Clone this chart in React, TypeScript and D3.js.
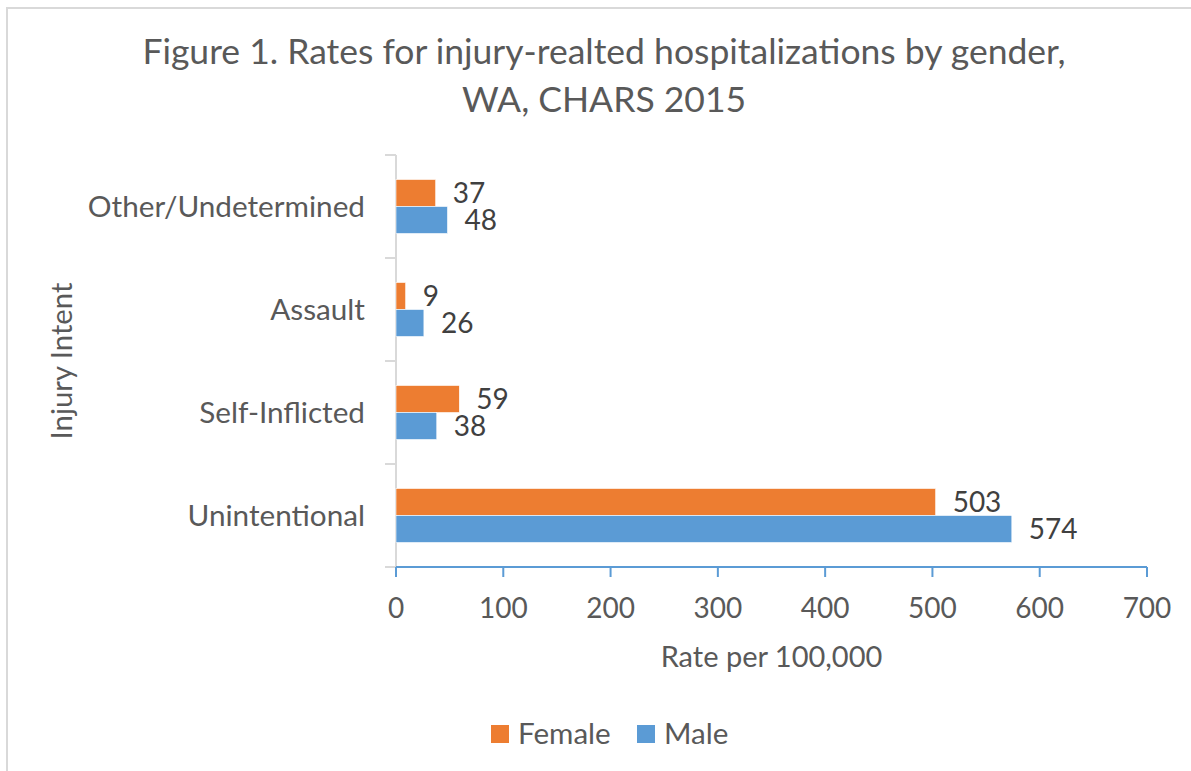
import * as React from 'react';
import * as d3 from 'd3';

// bottom to top, as in the chart
const categories = ['Unintentional', 'Self-Inflicted', 'Assault', 'Other/Undetermined'];
const series = ['Female', 'Male'];
const female = [503, 59, 9, 37];
const male = [574, 38, 26, 48];
const xTicks = [0, 100, 200, 300, 400, 500, 600, 700];

const colors: Record<string, string> = { Female: '#ED7D31', Male: '#5B9BD5' };
const FONT = 'Lato, "Open Sans", sans-serif';

export default function App() {
  const W = 1191;
  const H = 771;
  const plot = { left: 396, right: 1147, top: 155, bottom: 567 };

  const x = d3.scaleLinear().domain([0, 700]).range([plot.left, plot.right]);
  const y = d3.scaleBand().domain([...categories].reverse()).range([plot.top, plot.bottom]);
  const sub = d3.scaleBand().domain(series).range([0, y.step()]).paddingInner(0).paddingOuter(0.907);

  const rows = categories.map((c, i) => ({ cat: c, Female: female[i], Male: male[i] }));
  const bounds = d3.range(categories.length + 1).map((i) => plot.top + i * y.step());

  return (
    <svg width={W} height={H} style={{ position: 'absolute', left: 0, top: 0, display: 'block' }} fontFamily={FONT}>
      <rect x={0} y={0} width={W} height={H} fill="#fff" />
      <rect x={7} y={8} width={W + 20} height={H + 20} fill="none" stroke="#D9D9D9" strokeWidth={2} />

      <text x={604} y={64} textAnchor="middle" fontSize={35.5} fill="#595959">
        Figure 1. Rates for injury-realted hospitalizations by gender,
      </text>
      <text x={604} y={112} textAnchor="middle" fontSize={35.5} fill="#595959">
        WA, CHARS 2015
      </text>

      {/* category axis */}
      <line x1={plot.left} x2={plot.left} y1={plot.top} y2={plot.bottom} stroke="#D9D9D9" strokeWidth={2} />
      {bounds.map((b) => (
        <line key={b} x1={plot.left - 11} x2={plot.left} y1={b} y2={b} stroke="#D9D9D9" strokeWidth={2} />
      ))}

      {/* bars */}
      {rows.map((r) => (
        <g key={r.cat} transform={`translate(0,${y(r.cat)})`}>
          {series.map((s) => {
            const v = (r as any)[s] as number;
            const yy = sub(s) as number;
            return (
              <g key={s}>
                <rect x={x(0)} y={yy} width={x(v) - x(0)} height={sub.bandwidth()} fill={colors[s]} stroke="#fff" strokeWidth={0.6} />
                <text x={x(v) + 17} y={yy + sub.bandwidth() / 2} dy="0.35em" fontSize={28} fill="#404040">
                  {v}
                </text>
              </g>
            );
          })}
          <text x={365} y={y.bandwidth() / 2} dy="0.36em" textAnchor="end" fontSize={29.7} fill="#595959">
            {r.cat}
          </text>
        </g>
      ))}

      {/* value axis */}
      <line x1={plot.left} x2={plot.right} y1={plot.bottom} y2={plot.bottom} stroke="#5B9BD5" strokeWidth={2} />
      {xTicks.map((t) => (
        <g key={t}>
          <line x1={x(t)} x2={x(t)} y1={plot.bottom} y2={plot.bottom + 10} stroke="#5B9BD5" strokeWidth={2} />
          <text x={x(t)} y={618} textAnchor="middle" fontSize={28} fill="#595959">
            {t}
          </text>
        </g>
      ))}

      <text x={(plot.left + plot.right) / 2} y={667} textAnchor="middle" fontSize={29} fill="#595959">
        Rate per 100,000
      </text>
      <text transform={`translate(72,361) rotate(-90)`} textAnchor="middle" fontSize={29.3} fill="#595959">
        Injury Intent
      </text>

      {/* legend */}
      {series.map((s, i) => {
        const lx = [491, 637][i];
        return (
          <g key={s}>
            <rect x={lx} y={725} width={18} height={18} fill={colors[s]} />
            <text x={lx + 27} y={744} fontSize={29.6} fill="#595959">
              {s}
            </text>
          </g>
        );
      })}
    </svg>
  );
}
